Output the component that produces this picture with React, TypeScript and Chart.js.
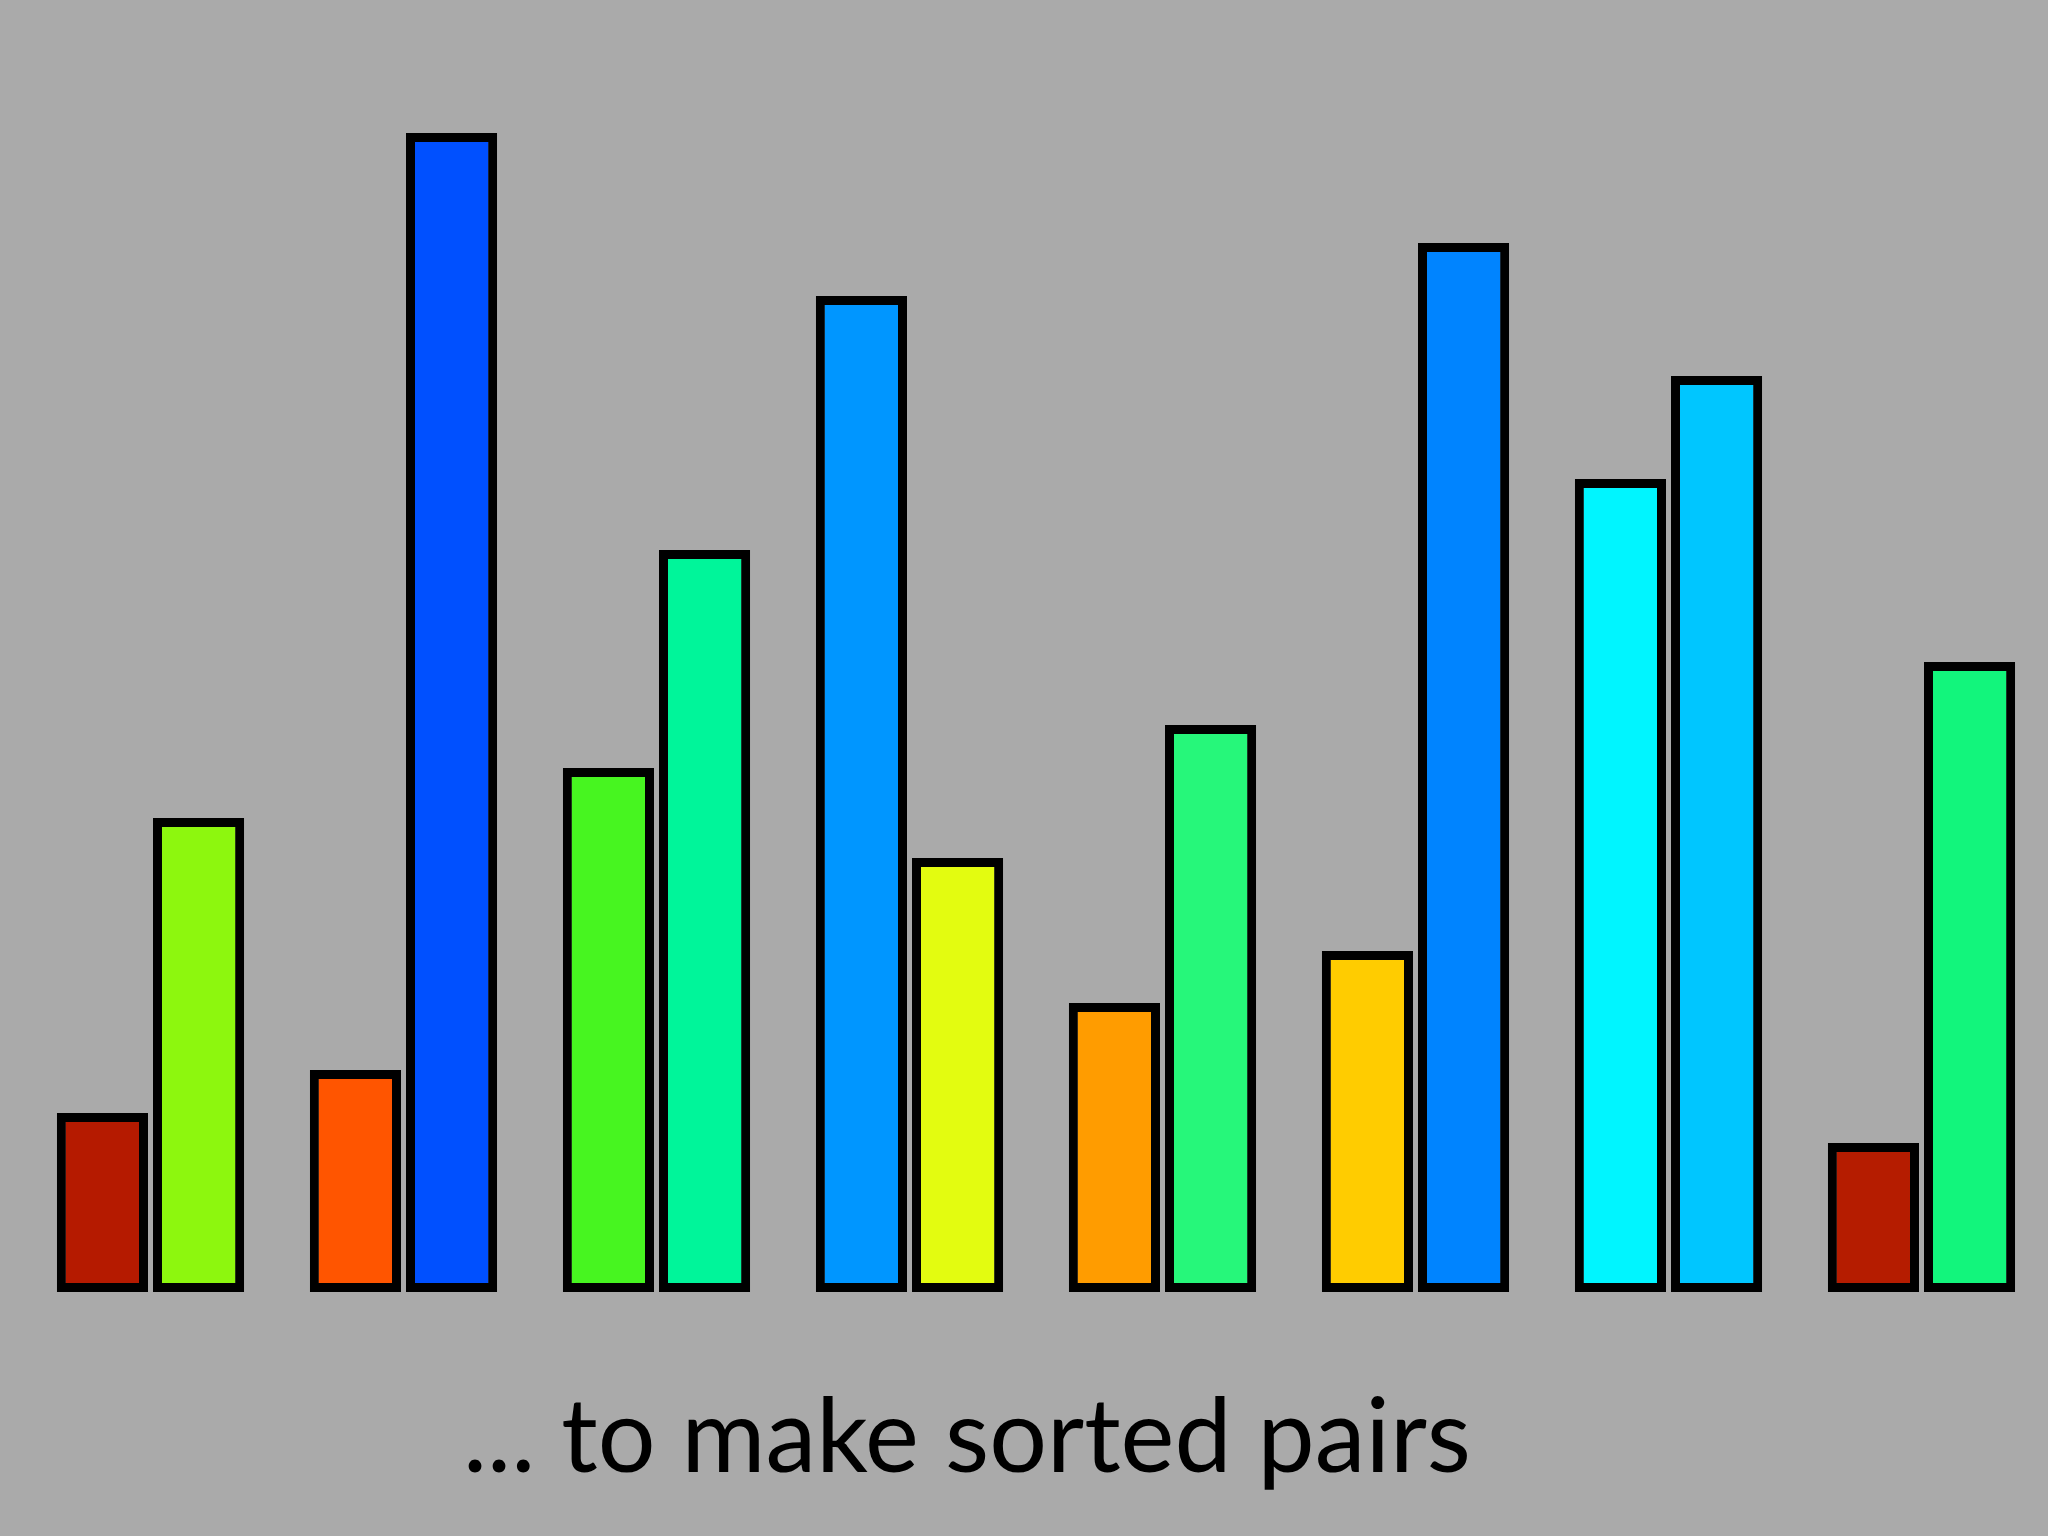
import React, { useEffect, useRef } from "react";
import { Chart, registerables } from "chart.js";

Chart.register(...registerables);

const pairLabels = ["Pair 1", "Pair 2", "Pair 3", "Pair 4", "Pair 5", "Pair 6", "Pair 7", "Pair 8"];
const firstValues = [179, 222, 524, 996, 289, 341, 813, 149];
const secondValues = [474, 1159, 742, 434, 567, 1049, 916, 630];
const firstColors = ["#b51a00", "#ff5500", "#47f520", "#0096ff", "#ff9c00", "#ffcc00", "#00f5ff", "#b51c00"];
const secondColors = ["#8df70e", "#0050ff", "#00f59a", "#e3fc10", "#26f77a", "#0084ff", "#00c6ff", "#12f57c"];
const caption = "... to make sorted pairs";

export default function App() {
  const canvasRef = useRef<HTMLCanvasElement | null>(null);

  useEffect(() => {
    if (!canvasRef.current) return;
    const chart = new Chart(canvasRef.current, {
      type: "bar",
      data: {
        labels: pairLabels,
        datasets: [
          {
            label: "First",
            data: firstValues,
            backgroundColor: firstColors,
            borderColor: "#000000",
            borderWidth: 9,
            borderSkipped: false,
          },
          {
            label: "Second",
            data: secondValues,
            backgroundColor: secondColors,
            borderColor: "#000000",
            borderWidth: 9,
            borderSkipped: false,
          },
        ],
      },
      options: {
        responsive: false,
        animation: false,
        maintainAspectRatio: false,
        layout: { padding: { left: 24, right: 0, top: 0, bottom: 244 } },
        datasets: { bar: { categoryPercentage: 0.76, barPercentage: 0.948 } },
        plugins: {
          legend: { display: false },
          tooltip: { enabled: false },
          title: { display: false },
        },
        scales: {
          x: { display: false, grid: { display: false } },
          y: { display: false, min: 0, max: 1292, grid: { display: false } },
        },
      },
    });
    return () => chart.destroy();
  }, []);

  return (
    <div
      style={{
        position: "fixed",
        left: 0,
        top: 0,
        width: 2048,
        height: 1536,
        background: "#aaaaaa",
        overflow: "hidden",
      }}
    >
      <canvas ref={canvasRef} width={2048} height={1536} style={{ position: "absolute", left: 0, top: 0 }} />
      <div
        style={{
          position: "absolute",
          left: 0,
          width: 1934,
          top: 1373,
          textAlign: "center",
          fontFamily: "Lato, 'Noto Sans', sans-serif",
          fontSize: 102,
          lineHeight: "120px",
          color: "#000000",
          whiteSpace: "nowrap",
        }}
      >
        {caption}
      </div>
    </div>
  );
}
